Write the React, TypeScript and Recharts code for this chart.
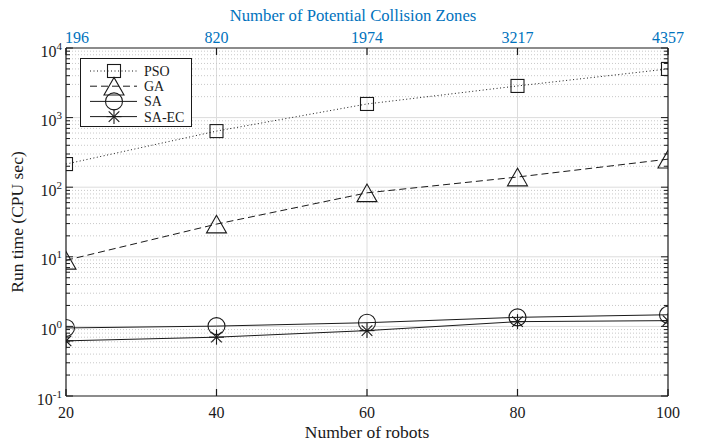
import React from 'react';
import { LineChart, Line, XAxis, YAxis, CartesianGrid, Legend } from 'recharts';

const robots = [20, 40, 60, 80, 100];
const zoneLabels = ['196', '820', '1974', '3217', '4357'];
const psoTimes = [215, 640, 1570, 2850, 5000];
const gaTimes = [8.9, 29.5, 83, 140, 253];
const saTimes = [0.95, 1.01, 1.13, 1.35, 1.47];
const saecTimes = [0.62, 0.7, 0.87, 1.17, 1.21];
const decadeTicks = [0.1, 1, 10, 100, 1000, 10000];
const decadeExponents = ['-1', '0', '1', '2', '3', '4'];
const minorMultipliers = [2, 3, 4, 5, 6, 7, 8, 9];
const seriesNames = ['PSO', 'GA', 'SA', 'SA-EC'];

const minorTicks: number[] = [];
decadeTicks.slice(0, -1).forEach((d) => minorMultipliers.forEach((m) => minorTicks.push(+(d * m).toPrecision(6))));

const data = robots.map((r, i) => ({
  robots: r,
  PSO: psoTimes[i],
  GA: gaTimes[i],
  SA: saTimes[i],
  SAEC: saecTimes[i],
}));

const FONT = '"Liberation Serif", "Times New Roman", serif';
const INK = '#1a1a1a';
const BLUE = '#0072BD';

const Square = ({ cx, cy }: any) => (
  <rect x={cx - 6.5} y={cy - 6.5} width={13} height={13} fill="none" stroke={INK} strokeWidth={1.1} />
);
const Triangle = ({ cx, cy }: any) => (
  <polygon points={`${cx},${cy - 8.8} ${cx - 10},${cy + 8.8} ${cx + 10},${cy + 8.8}`} fill="none" stroke={INK} strokeWidth={1.1} />
);
const Circle = ({ cx, cy }: any) => <circle cx={cx} cy={cy} r={8.5} fill="none" stroke={INK} strokeWidth={1.1} />;
const Asterisk = ({ cx, cy }: any) => (
  <g stroke={INK} strokeWidth={1.1}>
    <line x1={cx} y1={cy - 7.5} x2={cx} y2={cy + 7.5} />
    <line x1={cx - 7.5} y1={cy} x2={cx + 7.5} y2={cy} />
    <line x1={cx - 5.3} y1={cy - 5.3} x2={cx + 5.3} y2={cy + 5.3} />
    <line x1={cx - 5.3} y1={cy + 5.3} x2={cx + 5.3} y2={cy - 5.3} />
  </g>
);

const markers: any = { PSO: Square, GA: Triangle, SA: Circle, 'SA-EC': Asterisk };
const dashes: any = { PSO: '1 2.5', GA: '7 4', SA: undefined, 'SA-EC': undefined };

const dotFor = (name: string) => (p: any) => {
  const M = markers[name];
  return <M key={`${name}-${p.index}`} cx={p.cx} cy={p.cy} />;
};

const LeftTick = (props: any) => {
  const { x, y, payload } = props;
  const v = payload.value;
  const idx = decadeTicks.indexOf(v);
  const ax = x + 4;
  return (
    <g>
      <line x1={ax} x2={ax + (idx >= 0 ? 7 : 4)} y1={y} y2={y} stroke={INK} strokeWidth={1} />
      {idx >= 0 && (
        <text x={x} y={y + 8.5} textAnchor="end" fontFamily={FONT} fontSize={16} fill={INK}>
          10
          <tspan dy={-7} fontSize={11}>
            {decadeExponents[idx]}
          </tspan>
        </text>
      )}
    </g>
  );
};

const RightTick = (props: any) => {
  const { x, y, payload } = props;
  const major = decadeTicks.indexOf(payload.value) >= 0;
  return <line x1={x} x2={x - (major ? 7 : 4)} y1={y} y2={y} stroke={INK} strokeWidth={1} />;
};

const BottomTick = (props: any) => {
  const { x, y, payload } = props;
  const ay = y - 22;
  return (
    <g>
      <line x1={x} x2={x} y1={ay} y2={ay - 7} stroke={INK} strokeWidth={1.2} />
      <text x={x} y={y} textAnchor="middle" fontFamily={FONT} fontSize={16} fill={INK}>
        {payload.value}
      </text>
    </g>
  );
};

const TopTick = (props: any) => {
  const { x, y, payload } = props;
  const ay = y + 5;
  const i = robots.indexOf(payload.value);
  const first = i === 0;
  return (
    <g>
      <line x1={x} x2={x} y1={ay} y2={ay + 7} stroke={INK} strokeWidth={1.2} />
      <text x={first ? x - 1 : x} y={y} textAnchor={first ? 'start' : 'middle'} fontFamily={FONT} fontSize={16} fill={BLUE}>
        {zoneLabels[i]}
      </text>
    </g>
  );
};

const TopTitle = (props: any) => {
  const vb = props.viewBox || {};
  return (
    <text x={vb.x + vb.width / 2 - 14} y={vb.y + 20.5} textAnchor="middle" fontFamily={FONT} fontSize={16.7} fill={BLUE}>
      Number of Potential Collision Zones
    </text>
  );
};

const BottomTitle = (props: any) => {
  const vb = props.viewBox || {};
  return (
    <text x={vb.x + vb.width / 2} y={vb.y + vb.height - 4.5} textAnchor="middle" fontFamily={FONT} fontSize={17.5} fill={INK}>
      Number of robots
    </text>
  );
};

const LeftTitle = (props: any) => {
  const vb = props.viewBox || {};
  const cx = vb.x + 23;
  const cy = vb.y + vb.height / 2;
  return (
    <text x={cx} y={cy} transform={`rotate(-90 ${cx} ${cy})`} textAnchor="middle" fontFamily={FONT} fontSize={17.5} fill={INK}>
      Run time (CPU sec)
    </text>
  );
};

const renderLegend = () => (
  <svg width={112} height={69} style={{ display: 'block' }}>
    <rect x={0.5} y={0.5} width={111} height={68} fill="#fff" stroke={INK} strokeWidth={1} />
    {seriesNames.map((n, i) => {
      const cy = 13 + i * 15.2;
      const M = markers[n];
      return (
        <g key={n}>
          <line x1={10} x2={57} y1={cy} y2={cy} stroke={INK} strokeWidth={1} strokeDasharray={dashes[n]} />
          <M cx={34} cy={cy} />
          <text x={64} y={cy + 5} fontFamily={FONT} fontSize={14} fill={INK}>
            {n}
          </text>
        </g>
      );
    })}
  </svg>
);

export default function App() {
  return (
    <div style={{ position: 'absolute', left: 0, top: 0, width: 707, height: 442, background: '#fff' }}>
      <LineChart width={707} height={442} data={data} margin={{ top: 0, right: 0, bottom: 0, left: 0 }}>
        <CartesianGrid xAxisId="bottom" yAxisId="left" horizontal={false} vertical stroke="#dcdcdc" strokeWidth={1} verticalValues={[40, 60, 80]} />
        <CartesianGrid xAxisId="bottom" yAxisId="left" vertical={false} horizontalValues={minorTicks} stroke="#c8c8c8" strokeDasharray="1 2" strokeWidth={1} />
        <CartesianGrid xAxisId="bottom" yAxisId="left" vertical={false} horizontalValues={decadeTicks.slice(1, -1)} stroke="#dcdcdc" strokeWidth={1} />
        <XAxis
          xAxisId="bottom"
          dataKey="robots"
          type="number"
          domain={[20, 100]}
          ticks={robots}
          interval={0}
          allowDataOverflow
          orientation="bottom"
          height={46}
          tickSize={0}
          tickMargin={22}
          tickLine={false}
          axisLine={{ stroke: INK, strokeWidth: 1.2 }}
          tick={<BottomTick />}
          label={BottomTitle}
        />
        <XAxis
          xAxisId="top"
          dataKey="robots"
          type="number"
          domain={[20, 100]}
          ticks={robots}
          interval={0}
          allowDataOverflow
          orientation="top"
          height={48}
          tickSize={0}
          tickMargin={5}
          tickLine={false}
          axisLine={{ stroke: INK, strokeWidth: 1.2 }}
          tick={<TopTick />}
          label={TopTitle}
        />
        <YAxis
          yAxisId="left"
          type="number"
          scale="log"
          domain={[0.1, 10000]}
          allowDataOverflow
          ticks={[...decadeTicks, ...minorTicks]}
          interval={0}
          width={66}
          tickSize={0}
          tickMargin={4}
          tickLine={false}
          axisLine={{ stroke: INK, strokeWidth: 1.2 }}
          tick={<LeftTick />}
          label={LeftTitle}
        />
        <YAxis
          yAxisId="right"
          orientation="right"
          type="number"
          scale="log"
          domain={[0.1, 10000]}
          allowDataOverflow
          ticks={[...decadeTicks, ...minorTicks]}
          interval={0}
          width={39}
          tickSize={0}
          tickMargin={0}
          tickLine={false}
          axisLine={{ stroke: INK, strokeWidth: 1.2 }}
          tick={<RightTick />}
        />
        <Legend
          layout="vertical"
          align="center"
          verticalAlign="middle"
          content={renderLegend}
          wrapperStyle={{ position: 'absolute', left: 80, top: 58, width: 112, height: 69, margin: 0, padding: 0 }}
        />
        <Line xAxisId="bottom" yAxisId="left" dataKey="PSO" name="PSO" type="linear" stroke={INK} strokeWidth={1} strokeDasharray={dashes.PSO} dot={dotFor('PSO')} isAnimationActive={false} />
        <Line xAxisId="bottom" yAxisId="left" dataKey="GA" name="GA" type="linear" stroke={INK} strokeWidth={1} strokeDasharray={dashes.GA} dot={dotFor('GA')} isAnimationActive={false} />
        <Line xAxisId="bottom" yAxisId="left" dataKey="SA" name="SA" type="linear" stroke={INK} strokeWidth={1} dot={dotFor('SA')} isAnimationActive={false} />
        <Line xAxisId="bottom" yAxisId="left" dataKey="SAEC" name="SA-EC" type="linear" stroke={INK} strokeWidth={1} dot={dotFor('SA-EC')} isAnimationActive={false} />
      </LineChart>
    </div>
  );
}
